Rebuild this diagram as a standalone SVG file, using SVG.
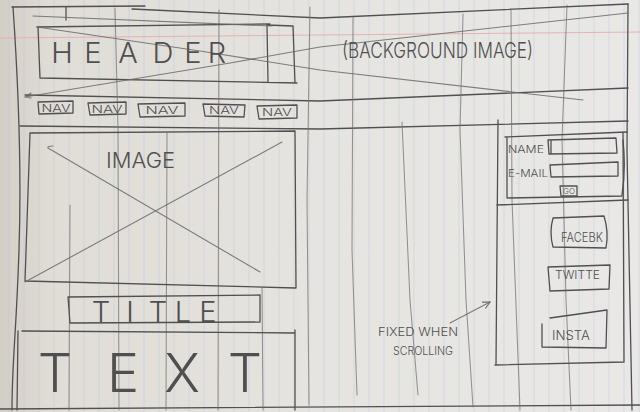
<svg xmlns="http://www.w3.org/2000/svg" width="640" height="412" viewBox="0 0 640 412">
  <defs>
    <linearGradient id="paper" x1="0" y1="0" x2="1" y2="0">
      <stop offset="0" stop-color="#d3cec6"/>
      <stop offset="0.08" stop-color="#e0dcd6"/>
      <stop offset="0.5" stop-color="#e6e4e0"/>
      <stop offset="1" stop-color="#e9e8e6"/>
    </linearGradient>
    <pattern id="ruling" x="2" y="0" width="15" height="412" patternUnits="userSpaceOnUse">
      <line x1="7" y1="0" x2="7" y2="412" stroke="#b3c7d8" stroke-width="0.8" opacity="0.55"/>
    </pattern>
    <marker id="open-head" viewBox="0 0 10 10" refX="9" refY="5" markerWidth="9" markerHeight="9" orient="auto" markerUnits="userSpaceOnUse">
      <path d="M1,1 L9,5 L1,9" fill="none" stroke="#555" stroke-width="1.2"/>
    </marker>
    <style>
      .pen { fill: none; stroke: #505050; stroke-width: 1.3; stroke-linecap: round; stroke-linejoin: round; }
      .pen-soft { fill: none; stroke: #6a6a6a; stroke-width: 1.1; stroke-linecap: round; opacity: 0.85; }
      .grid { fill: none; stroke: #6f6f6f; stroke-width: 1.05; stroke-linecap: round; opacity: 0.72; }
      .hand { font-family: "Inter", "Open Sans", "Roboto", "Liberation Sans", sans-serif; font-weight: 300; fill: #4f4f4f; }
      .mid { text-anchor: middle; }
    </style>
  </defs>

  <!-- ruled notebook sheet -->
  <rect width="640" height="412" fill="url(#paper)"/>
  <rect width="640" height="412" fill="url(#ruling)"/>
  <path d="M0,38 L640,32" stroke="#e3aeae" stroke-width="0.9" fill="none"/>

  <!-- page frame and layout guides -->
  <g id="frame">
    <path class="pen" d="M12,7 L145,6 M132,9 L320,18 L628,4"/>
    <path class="pen" d="M13,7 C18,80 22,160 19,250 S12,360 12,410"/>
    <path class="pen" d="M628,4 L627,150 L632,410"/>
    <path class="pen" d="M25,95 L320,101 L628,88"/>
    <path class="pen" d="M20,126 L320,129 L628,121"/>
    <path class="pen" d="M0,409 L640,405"/>
    <path class="pen" d="M66,7 L66,20"/>
  </g>

  <g id="columns">
    <path class="grid" d="M115,8 L118,130 L119,410"/>
    <path class="grid" d="M219,10 L218,410"/>
    <path class="grid" d="M310,7 L307,200 L309,405"/>
    <path class="grid" d="M353,17 L352,250 L357,395"/>
    <path class="grid" d="M402,122 L410,300 L418,395"/>
    <path class="grid" d="M463,14 L460,130 L466,300 L473,407"/>
    <path class="grid" d="M511,9 L512,200 L520,410"/>
    <path class="grid" d="M567,5 L562,140 L566,300 L571,410"/>
    <path class="grid" d="M70,205 L69,410"/>
    <path class="grid" d="M167,133 L166,410"/>
    <path class="grid" d="M262,288 L263,410"/>
  </g>

  <!-- header band with background image cross -->
  <g id="header">
    <path class="pen" d="M37,27 L270,24 M38,27 L40,78 L297,83 M267,25 L293,26 L295,83 M267,26 L268,82"/>
    <path class="pen-soft" d="M33,16 L272,26"/>
    <path class="pen-soft" d="M25,97 L230,63 L320,47 L628,13 M31,93 L25,97 L31,98"/>
    <path class="pen-soft" d="M37,27 L200,51 L320,70 L583,100"/>
    <text class="hand mid" font-size="29" x="62 93 128 163 193 217" y="63">HEADER</text>
    <text class="hand" font-size="22" x="342" y="58" textLength="191" lengthAdjust="spacingAndGlyphs">(BACKGROUND IMAGE)</text>
  </g>

  <g id="nav">
    <path class="pen" d="M38,102 L73,101 L73,113 L39,114 Z M88,103 L126,102 L126,114 L90,115 Z M138,104 L185,103 L185,116 L140,117 Z M203,104 L245,105 L244,117 L205,116 Z M257,106 L297,105 L297,118 L259,119 Z"/>
    <text class="hand mid" font-size="10" x="56" y="112" textLength="29" lengthAdjust="spacingAndGlyphs">NAV</text>
    <text class="hand mid" font-size="10" x="107" y="113" textLength="31" lengthAdjust="spacingAndGlyphs">NAV</text>
    <text class="hand mid" font-size="10" x="162" y="114" textLength="33" lengthAdjust="spacingAndGlyphs">NAV</text>
    <text class="hand mid" font-size="10" x="224" y="114" textLength="30" lengthAdjust="spacingAndGlyphs">NAV</text>
    <text class="hand mid" font-size="10" x="277" y="116" textLength="30" lengthAdjust="spacingAndGlyphs">NAV</text>
  </g>

  <g id="image">
    <path class="pen" d="M30,133 L295,131 L296,288 L25,281 Z"/>
    <path class="pen-soft" d="M48,148 L260,272 M25,282 L282,142 M53,146 Q47,146 48,148"/>
    <text class="hand" font-size="22" x="106" y="168" textLength="69" lengthAdjust="spacingAndGlyphs">IMAGE</text>
  </g>

  <g id="title">
    <path class="pen" d="M68,297 L260,295 L260,322 L70,323 Z"/>
    <text class="hand mid" font-size="29" x="101 130 158 183 208" y="322">TITLE</text>
  </g>

  <g id="body-text">
    <path class="pen" d="M22,331 L295,333 M18,331 L17,410 M295,330 L295,410"/>
    <text class="hand mid" font-size="54" x="55 123 182 245" y="392">TEXT</text>
  </g>

  <!-- fixed sidebar -->
  <g id="sidebar">
    <path class="pen" d="M498,120 L496,365 M495,365 L624,362 M623,133 L624,362"/>
  </g>

  <g id="signup-form">
    <path class="pen" d="M505,137 L627,132 M507,137 L507,198 L622,196 M623,140 Q626,170 622,195 M497,205 L628,200"/>
    <path class="pen" d="M548,140 L616,138 L617,153 L549,154 Z M551,141 L551,153"/>
    <path class="pen" d="M550,165 L618,162 L618,176 L551,177 Z"/>
    <path class="pen" d="M560,186 L577,186 L577,196 L561,196 Z"/>
    <text class="hand" font-size="10" x="508" y="153" textLength="36" lengthAdjust="spacingAndGlyphs">NAME</text>
    <text class="hand" font-size="10" x="508" y="177" textLength="40" lengthAdjust="spacingAndGlyphs">E-MAIL</text>
    <text class="hand mid" font-size="8" x="569" y="194">GO</text>
  </g>

  <g id="facebook">
    <path class="pen" d="M553,247 Q549,232 553,218 L604,216 Q609,232 606,248 Z"/>
    <text class="hand" font-size="13" x="561" y="242" textLength="42" lengthAdjust="spacingAndGlyphs">FACEBK</text>
  </g>

  <g id="twitter">
    <path class="pen" d="M548,267 L610,265 L609,289 L550,291 Z"/>
    <text class="hand" font-size="12" x="555" y="279" textLength="45" lengthAdjust="spacingAndGlyphs">TWITTE</text>
  </g>

  <g id="instagram">
    <path class="pen" d="M550,318 L607,310 L606,348 L542,347 L542,324"/>
    <text class="hand" font-size="13" x="552" y="340" textLength="38" lengthAdjust="spacingAndGlyphs">INSTA</text>
  </g>

  <g id="note">
    <text class="hand" font-size="12" x="378" y="336" textLength="80" lengthAdjust="spacingAndGlyphs">FIXED WHEN</text>
    <text class="hand" font-size="11" x="393" y="355" textLength="60" lengthAdjust="spacingAndGlyphs">SCROLLING</text>
  </g>

  <g id="connectors">
    <path class="pen-soft" d="M450,323 L490,302" marker-end="url(#open-head)"/>
  </g>
</svg>
